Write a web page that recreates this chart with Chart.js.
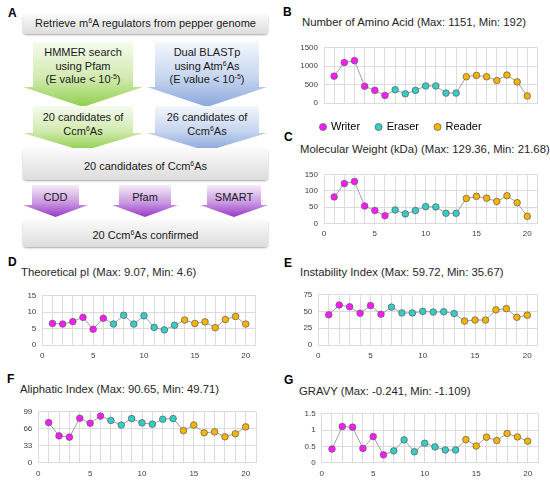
<!DOCTYPE html>
<html>
<head>
<meta charset="utf-8">
<script src="https://cdn.jsdelivr.net/npm/chart.js@4.4.0/dist/chart.umd.min.js"></script>
<style>
    body { margin: 0; background: #fff; font-family: "Liberation Sans", Arial, sans-serif; }
    #fig { position: relative; width: 550px; height: 483px; overflow: hidden; }
    .letter { position: absolute; font-weight: bold; font-size: 12px; line-height: 14px; color: #000; }
    .title { position: absolute; font-size: 11.3px; line-height: 13px; color: #262626; white-space: nowrap; }
    canvas { position: absolute; }
    .shape { position: absolute; }
    .box { position: absolute; border-radius: 4px; background: linear-gradient(#fbfbfb, #dcdcdc);
           box-shadow: 0 1px 2px rgba(0,0,0,0.35); }
    .green { background: linear-gradient(#f6fbef 0%, #d2eab0 55%, #8fcf4b 100%); }
    .blue { background: linear-gradient(#f4f7fc 0%, #c6d5ef 55%, #8aa7db 100%); }
    .purple { background: linear-gradient(#f4ecf8 0%, #c898e0 55%, #9838c8 100%); }
    .txt { position: absolute; font-size: 11px; line-height: 13.4px; color: #1a1a1a; text-align: center; white-space: nowrap; }
    sup { font-size: 7px; line-height: 0; vertical-align: 4px; }
</style>
</head>
<body>
<div id="fig">
    <!-- Panel A: workflow -->
    <div class="letter" style="left:8px;top:6px;">A</div>
    <div class="box" style="left:23px;top:14px;width:245px;height:20px;"></div>
    <div class="txt" style="left:23px;top:17.3px;width:245px;">Retrieve m<sup>6</sup>A regulators from pepper genome</div>

    <div class="shape green" style="left:23px;top:42px;width:120px;height:65px;clip-path:polygon(10px 0,110px 0,110px 45px,120px 45px,60px 65px,0 45px,10px 45px);"></div>
    <div class="shape blue" style="left:147px;top:42px;width:120px;height:65px;clip-path:polygon(8px 0,112px 0,112px 45px,120px 45px,60px 65px,0 45px,8px 45px);"></div>
    <div class="txt" style="left:23px;top:46.3px;width:120px;">HMMER search<br>using Pfam<br>(E value &lt; 10<sup>-5</sup>)</div>
    <div class="txt" style="left:147px;top:46.3px;width:120px;">Dual BLASTp<br>using Atm<sup>6</sup>As<br>(E value &lt; 10<sup>-5</sup>)</div>

    <div class="shape green" style="left:23px;top:106px;width:120px;height:45px;clip-path:polygon(10px 0,110px 0,110px 27px,120px 27px,60px 45px,0 27px,10px 27px);"></div>
    <div class="shape blue" style="left:147px;top:106px;width:120px;height:45px;clip-path:polygon(8px 0,112px 0,112px 27px,120px 27px,60px 45px,0 27px,8px 27px);"></div>
    <div class="txt" style="left:23px;top:111.3px;width:120px;">20 candidates of<br>Ccm<sup>6</sup>As</div>
    <div class="txt" style="left:147px;top:111.3px;width:120px;">26 candidates of<br>Ccm<sup>6</sup>As</div>

    <div class="box" style="left:23px;top:148px;width:245px;height:32px;"></div>
    <div class="txt" style="left:23px;top:159.5px;width:245px;">20 candidates of Ccm<sup>6</sup>As</div>

    <div class="shape purple" style="left:23px;top:185px;width:65px;height:32px;clip-path:polygon(9px 0,56px 0,56px 20px,65px 20px,32.5px 32px,0 20px,9px 20px);"></div>
    <div class="shape purple" style="left:112px;top:185px;width:66px;height:32px;clip-path:polygon(7px 0,59px 0,59px 20px,66px 20px,33px 32px,0 20px,7px 20px);"></div>
    <div class="shape purple" style="left:200px;top:185px;width:68px;height:32px;clip-path:polygon(7px 0,61px 0,61px 20px,68px 20px,34px 32px,0 20px,7px 20px);"></div>
    <div class="txt" style="left:23px;top:191.3px;width:65px;">CDD</div>
    <div class="txt" style="left:112px;top:191.3px;width:66px;">Pfam</div>
    <div class="txt" style="left:200px;top:191.3px;width:68px;">SMART</div>

    <div class="box" style="left:23px;top:220px;width:245px;height:27px;"></div>
    <div class="txt" style="left:23px;top:229.3px;width:245px;">20 Ccm<sup>6</sup>As confirmed</div>

    <!-- Panel letters and titles -->
    <div class="letter" style="left:283px;top:5px;">B</div>
    <div class="title" style="left:302px;top:15.5px;">Number of Amino Acid (Max: 1151, Min: 192)</div>
    <div class="letter" style="left:284px;top:129.5px;">C</div>
    <div class="title" style="left:300px;top:142.5px;">Molecular Weight (kDa) (Max: 129.36, Min: 21.68)</div>
    <div class="letter" style="left:8px;top:255px;">D</div>
    <div class="title" style="left:21px;top:265.5px;">Theoretical pI (Max: 9.07, Min: 4.6)</div>
    <div class="letter" style="left:284px;top:256px;">E</div>
    <div class="title" style="left:300px;top:265.5px;">Instability Index (Max: 59.72, Min: 35.67)</div>
    <div class="letter" style="left:7px;top:372px;">F</div>
    <div class="title" style="left:20px;top:383px;">Aliphatic Index (Max: 90.65, Min: 49.71)</div>
    <div class="letter" style="left:284px;top:372.5px;">G</div>
    <div class="title" style="left:299px;top:385px;">GRAVY (Max: -0.241, Min: -1.109)</div>

    <canvas id="chartB"></canvas>
    <canvas id="chartC"></canvas>
    <canvas id="chartD"></canvas>
    <canvas id="chartE"></canvas>
    <canvas id="chartF"></canvas>
    <canvas id="chartG"></canvas>
</div>

<script>
// Gene index (Ccm6A 1..20) and its family
const genes = [1, 2, 3, 4, 5, 6, 7, 8, 9, 10, 11, 12, 13, 14, 15, 16, 17, 18, 19, 20];
const family = ['Writer', 'Writer', 'Writer', 'Writer', 'Writer', 'Writer',
                'Eraser', 'Eraser', 'Eraser', 'Eraser', 'Eraser', 'Eraser', 'Eraser',
                'Reader', 'Reader', 'Reader', 'Reader', 'Reader', 'Reader', 'Reader'];
const familyNames = ['Writer', 'Eraser', 'Reader'];

// Values per gene
const aminoAcids = [730, 1100, 1151, 454, 343, 205, 361, 250, 343, 463, 463, 269, 269, 713, 750, 713, 611, 759, 574, 192];
const molWeight = [81.5, 122.8, 129.36, 53.4, 39.4, 23.4, 41.2, 29.0, 39.4, 51.5, 50.6, 31.0, 31.0, 76.9, 83.4, 77.8, 67.5, 85.3, 63.7, 21.68];
const theoreticalPI = [6.57, 6.39, 7.13, 8.43, 4.81, 8.15, 6.39, 9.07, 6.39, 8.89, 5.37, 4.6, 6.0, 7.6, 6.57, 7.04, 5.28, 7.78, 8.7, 6.39];
const instability = [45.1, 59.72, 57.1, 47.4, 58.9, 46.0, 56.6, 47.9, 47.9, 50.2, 49.2, 49.7, 46.9, 35.67, 37.3, 37.3, 52.5, 54.3, 41.4, 44.6];
const aliphatic = [78.0, 52.2, 49.71, 86.4, 76.8, 90.65, 82.2, 73.2, 85.8, 77.4, 75.0, 84.6, 85.8, 62.4, 73.2, 58.2, 60.0, 50.4, 56.4, 69.6];
const gravy = [0.419, 1.109, 1.09, 0.438, 0.80, 0.241, 0.363, 0.70, 0.335, 0.596, 0.485, 0.39, 0.39, 0.708, 0.513, 0.783, 0.68, 0.895, 0.79, 0.66];

// Tick labels
const xTicks = [0, 5, 10, 15, 20];
const xMax = 21;
const aminoTicks = [0, 500, 1000, 1500];
const weightTicks = [0, 50, 100, 150];
const piTicks = [0, 5, 10, 15];
const instabilityTicks = [0, 25, 50, 75];
const aliphaticTicks = [0, 33, 66, 99];
const gravyTicks = [0, 0.5, 1, 1.5];

// Styles
const familyColors = { Writer: '#ff1aff', Eraser: '#35cdc6', Reader: '#f8b400' };
const gridColor = '#dcdcdc';
const tickColor = '#404040';

Chart.defaults.font.family = '"Liberation Sans", Arial, sans-serif';

// Nudges the legend sideways so its first marker sits under the axis labels
const legendShift = {
    id: 'legendShift',
    afterLayout(chart, args, opts) {
        if (chart.legend && opts.dx) {
            chart.legend.left += opts.dx;
            chart.legend.right += opts.dx;
        }
    }
};

/**
 * Build one line panel; area gives pixel spots of x=0, x=20, top and bottom of plot
 */
function makeChart(id, values, yTicks, area) {
    const canvas = document.getElementById(id);
    const withLegend = area.legendX !== undefined;
    const unit = (area.x20 - area.x0) / 20;
    const plotW = unit * xMax;
    const plotH = area.y0 - area.yTop;
    const yW = 26;
    const legendPad = 16, legendBox = 5;
    const xH = withLegend ? 2.5 : 16;
    const legendH = withLegend ? 43 : 0;

    const left = Math.floor(area.x0 - yW - 1);
    const top = Math.floor(area.yTop - 6);
    const padLeft = area.x0 - yW - left;
    const padTop = area.yTop - top;
    const width = Math.ceil(padLeft + yW + plotW + 8);
    const height = Math.ceil(padTop + plotH + xH + legendH + 2);
    const padRight = width - (padLeft + yW + plotW);
    const padBottom = height - (padTop + plotH + xH + legendH);
    const legendDx = withLegend ? area.legendX - (area.x0 - yW + legendPad + legendBox / 2) : 0;

    canvas.width = width;
    canvas.height = height;
    canvas.style.left = left + 'px';
    canvas.style.top = top + 'px';

    const points = genes.map((g, i) => ({ x: g, y: values[i] }));

    new Chart(canvas.getContext('2d'), {
        type: 'line',
        data: {
            datasets: [{
                data: points,
                borderColor: '#a0a0a0',
                borderWidth: 1,
                pointRadius: 3.3,
                pointBorderWidth: 0.7,
                pointBorderColor: '#5a5a5a',
                pointBackgroundColor: family.map(f => familyColors[f]),
                clip: false
            }]
        },
        plugins: [legendShift],
        options: {
            responsive: false,
            animation: false,
            devicePixelRatio: 1,
            layout: { padding: { left: padLeft, top: padTop, right: padRight, bottom: padBottom } },
            plugins: {
                tooltip: { enabled: false },
                legendShift: { dx: legendDx },
                legend: {
                    display: withLegend,
                    position: 'bottom',
                    align: 'start',
                    labels: {
                        usePointStyle: true,
                        boxWidth: legendBox,
                        boxHeight: legendBox,
                        padding: legendPad,
                        color: '#262626',
                        font: { size: 11 },
                        generateLabels: () => familyNames.map(name => ({
                            text: name,
                            fillStyle: familyColors[name],
                            strokeStyle: '#5a5a5a',
                            lineWidth: 0.7,
                            pointStyle: 'circle',
                            hidden: false
                        }))
                    }
                }
            },
            scales: {
                x: {
                    type: 'linear',
                    min: 0,
                    max: xMax,
                    afterFit: s => { s.height = xH; },
                    grid: { color: gridColor, drawTicks: false },
                    border: { color: gridColor },
                    ticks: {
                        stepSize: 1,
                        autoSkip: false,
                        maxRotation: 0,
                        padding: 6,
                        color: tickColor,
                        font: { size: 8 },
                        callback: v => xTicks.includes(v) ? String(v) : ''
                    }
                },
                y: {
                    min: yTicks[0],
                    max: yTicks[yTicks.length - 1],
                    afterFit: s => { s.width = yW; },
                    grid: { color: gridColor, drawTicks: false },
                    border: { color: gridColor },
                    ticks: {
                        stepSize: yTicks[1] - yTicks[0],
                        padding: 6,
                        color: tickColor,
                        font: { size: 8 },
                        callback: v => String(v)
                    }
                }
            }
        }
    });
}

makeChart('chartB', aminoAcids, aminoTicks, { x0: 324, x20: 527.3, yTop: 43, y0: 97, legendX: 323 });
makeChart('chartC', molWeight, weightTicks, { x0: 324, x20: 527.3, yTop: 170, y0: 223.3 });
makeChart('chartD', theoreticalPI, piTicks, { x0: 42.3, x20: 245.7, yTop: 291, y0: 345 });
makeChart('chartE', instability, instabilityTicks, { x0: 318.3, x20: 527.3, yTop: 290.7, y0: 345 });
makeChart('chartF', aliphatic, aliphaticTicks, { x0: 38.3, x20: 245.7, yTop: 407.7, y0: 462.7 });
makeChart('chartG', gravy, gravyTicks, { x0: 321.7, x20: 527.7, yTop: 409, y0: 462.7 });
</script>
</body>
</html>
